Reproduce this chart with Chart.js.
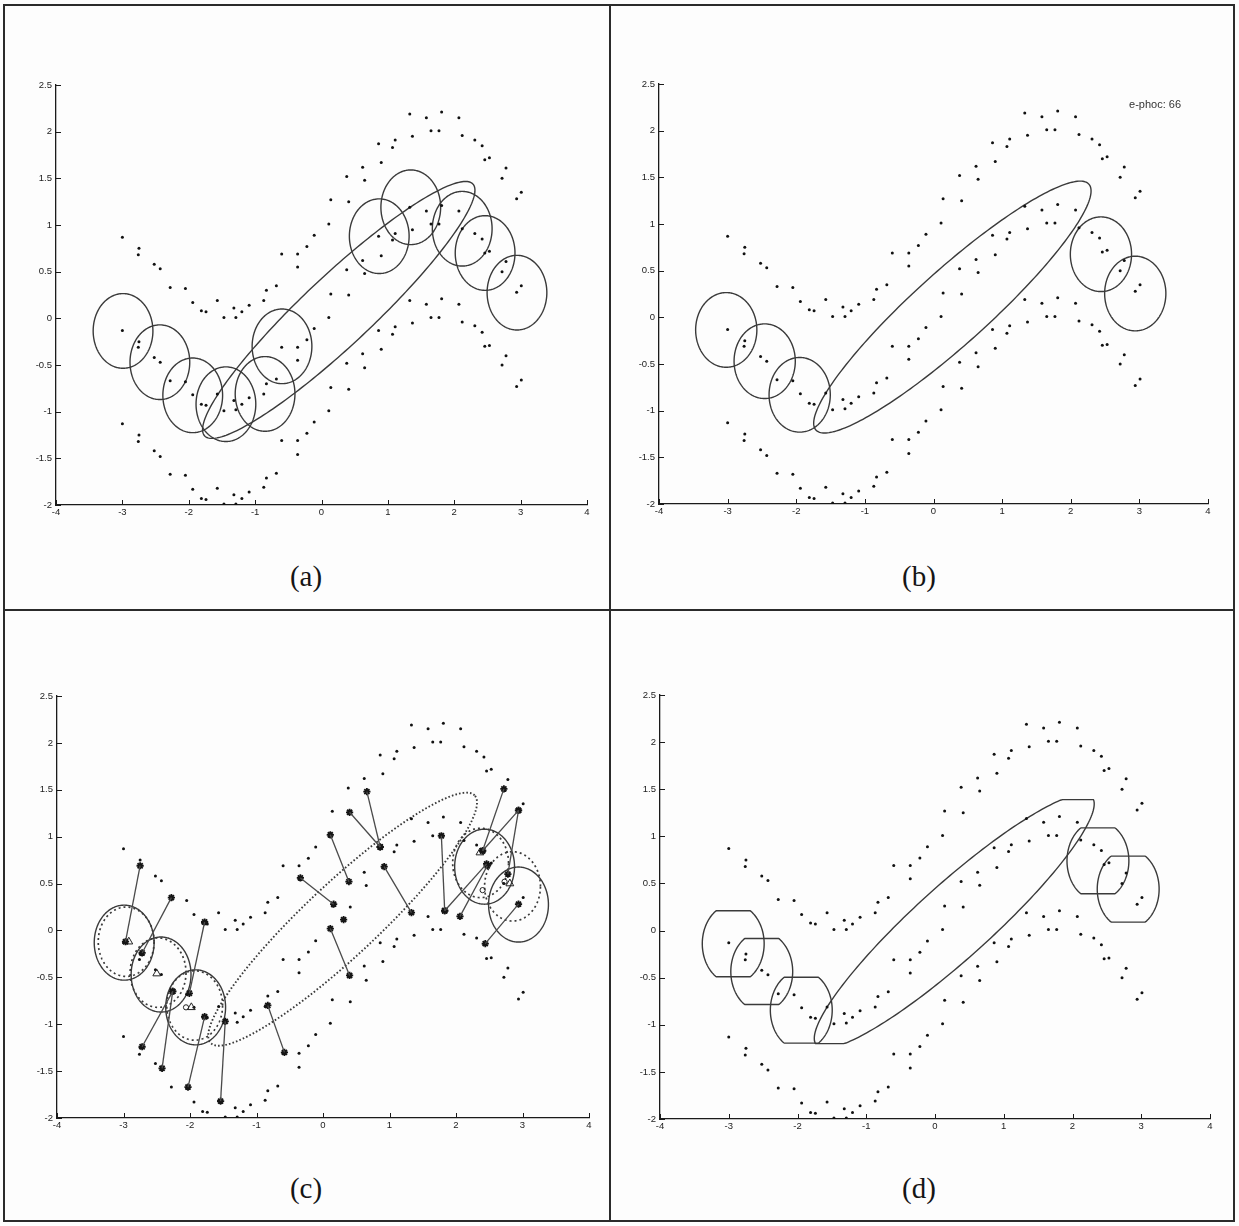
<!DOCTYPE html>
<html>
<head>
<meta charset="utf-8">
<script src="https://cdn.jsdelivr.net/npm/chart.js@4.4.1/dist/chart.umd.min.js"></script>
<style>
body { margin:0; background:#fff; }
#page { position:relative; width:1239px; height:1226px; background:#fdfdfd; overflow:hidden; }
.rule { position:absolute; background:#2b2b2b; }
canvas { position:absolute; }
.cap { position:absolute; width:80px; text-align:center; font-family:"Liberation Serif","DejaVu Serif",serif; font-size:29px; line-height:1; color:#151515; }
</style>
</head>
<body>
<div id="page">
  <div class="rule" style="left:3px;top:4px;width:1232px;height:2px"></div>
  <div class="rule" style="left:3px;top:1220px;width:1232px;height:2px"></div>
  <div class="rule" style="left:3px;top:4px;width:2px;height:1218px"></div>
  <div class="rule" style="left:1233px;top:4px;width:2px;height:1218px"></div>
  <div class="rule" style="left:609px;top:4px;width:2px;height:1218px"></div>
  <div class="rule" style="left:3px;top:609px;width:1232px;height:2px"></div>
  <canvas id="pa"></canvas>
  <canvas id="pb"></canvas>
  <canvas id="pc"></canvas>
  <canvas id="pd"></canvas>
  <div class="cap" style="left:266px;top:562px">(a)</div>
  <div class="cap" style="left:879px;top:562px">(b)</div>
  <div class="cap" style="left:266px;top:1174px">(c)</div>
  <div class="cap" style="left:879px;top:1174px">(d)</div>
</div>
<script>
// training samples: three bands, same x for every band
const xs     = [-3.00,-2.75,-2.76,-2.52,-2.43,-2.28,-2.05,-1.94,-1.81,-1.74,-1.57,-1.47,-1.32,-1.29,-1.20,-1.09,-0.87,-0.83,-0.68,-0.60,
                -0.36,-0.36,-0.22,-0.11, 0.11, 0.14, 0.38, 0.41, 0.62, 0.65, 0.86, 0.90, 1.07, 1.11, 1.33, 1.37, 1.58, 1.65, 1.77, 1.81,
                 2.07, 2.12, 2.31, 2.42, 2.46, 2.53, 2.72, 2.78, 2.94, 3.01]
const yUpper = [ 0.87, 0.75, 0.68, 0.58, 0.53, 0.33, 0.32, 0.17, 0.08, 0.07, 0.19, 0.01, 0.11, 0.01, 0.07, 0.14, 0.19, 0.30, 0.35, 0.69,
                 0.69, 0.55, 0.77, 0.89, 1.01, 1.27, 1.52, 1.25, 1.62, 1.48, 1.87, 1.67, 1.83, 1.91, 2.19, 1.95, 2.15, 2.01, 2.01, 2.21,
                 2.15, 1.96, 1.91, 1.85, 1.70, 1.72, 1.50, 1.61, 1.28, 1.35]
const yMiddle= [-0.13,-0.25,-0.31,-0.42,-0.47,-0.67,-0.68,-0.82,-0.92,-0.93,-0.81,-0.99,-0.88,-0.98,-0.92,-0.85,-0.81,-0.70,-0.65,-0.31,
                -0.31,-0.45,-0.23,-0.11, 0.01, 0.26, 0.52, 0.25, 0.62, 0.48, 0.88, 0.67, 0.84, 0.91, 1.19, 0.95, 1.15, 1.01, 1.01, 1.21,
                 1.15, 0.96, 0.91, 0.85, 0.70, 0.72, 0.50, 0.61, 0.28, 0.35]
const yLower = [-1.13,-1.25,-1.32,-1.42,-1.48,-1.67,-1.68,-1.83,-1.93,-1.94,-1.82,-1.99,-1.89,-1.99,-1.93,-1.86,-1.81,-1.71,-1.66,-1.31,
                -1.31,-1.46,-1.23,-1.11,-0.99,-0.74,-0.48,-0.76,-0.38,-0.53,-0.13,-0.33,-0.17,-0.09, 0.19,-0.05, 0.15, 0.01, 0.01, 0.21,
                 0.15,-0.04,-0.08,-0.15,-0.30,-0.29,-0.50,-0.40,-0.73,-0.66]

// local models (circle centres, data units)
const aCx = [-2.99,-2.435,-1.94,-1.44,-0.85,-0.595, 0.87, 1.345, 2.12, 2.465, 2.945]
const aCy = [-0.135,-0.47,-0.825,-0.92,-0.81,-0.30, 0.88, 1.19, 0.96, 0.70, 0.275]
const bCx = [-3.02,-2.46,-1.95, 2.44, 2.94]
const bCy = [-0.135,-0.47,-0.83, 0.676, 0.255]
const cSolidCx = [-2.99,-2.435,-1.915, 2.43, 2.94]
const cSolidCy = [-0.13,-0.47,-0.82, 0.68, 0.276]
const cDotCx = [-2.96,-2.48,-1.93, 2.37, 2.85]
const cDotCy = [-0.12,-0.45,-0.80, 0.72, 0.47]
const dCx = [-2.935,-2.52,-1.945, 2.37, 2.81]
const dCy = [-0.14,-0.435,-0.845, 0.74, 0.44]
const circleR = [0.45, 0.40]

// big elongated model: centre, axis vector, conjugate vector
const bigA = [0.26, 0.09, 2.02, 1.35, -0.36, 0.27]
const bigB = [0.275, 0.11, 1.985, 1.32, -0.38, 0.28]
const bigC = [0.295, 0.12, 1.985, 1.32, -0.38, 0.28]
const bigD = [0.28, 0.10, 2.0, 1.32, -0.38, 0.28]
const bigDClip = [-1.2, 1.39]

// panel (c): moves of samples (from -> to)
const segX0 = [-2.75,-2.28,-1.78,-2.72,-2.42,-1.78,-1.47,-0.83,-0.34, 0.11, 0.11, 0.40, 0.66, 0.92, 1.78, 1.83, 2.06, 2.72, 2.94, 2.94, 2.44]
const segY0 = [ 0.69, 0.35, 0.09,-1.24,-1.47,-0.92,-0.97,-0.80, 0.56, 1.02, 0.02, 1.26, 1.48, 0.68, 1.01, 0.21, 0.15, 1.51, 1.28, 1.28,-0.14]
const segX1 = [-2.97,-2.72,-2.01,-2.26,-2.26,-2.03,-1.54,-0.58, 0.16, 0.39, 0.40, 0.86, 0.86, 1.33, 1.83, 2.46, 2.47, 2.40, 2.40, 2.78, 2.94]
const segY1 = [-0.12,-0.24,-0.67,-0.65,-0.65,-1.67,-1.82,-1.30, 0.28, 0.52,-0.48, 0.89, 0.89, 0.19, 0.21, 0.71, 0.69, 0.85, 0.85, 0.60, 0.28]
const loneX = [0.31]
const loneY = [0.115]
const triX = [-2.92,-2.50,-1.98, 2.36, 2.81]
const triY = [-0.12,-0.46,-0.82, 0.83, 0.50]
const oX = [-2.06, 2.73, 2.40]
const oY = [-0.82, 0.52, 0.43]

const shapes = {}

function circ(cx, cy, rx, ry) {
  return { cx: cx, cy: cy, ax: rx, ay: 0, bx: 0, by: ry }
}
function big(p) {
  return { cx: p[0], cy: p[1], ax: p[2], ay: p[3], bx: p[4], by: p[5] }
}

shapes.pa = { items: [] }
aCx.forEach((x, i) => shapes.pa.items.push({ e: circ(x, aCy[i], circleR[0], circleR[1]) }))
shapes.pa.items.push({ e: big(bigA) })

shapes.pb = { items: [], text: { s: 'e-phoc: 66', x: 2.85, y: 2.27 } }
bCx.forEach((x, i) => shapes.pb.items.push({ e: circ(x, bCy[i], 0.446, 0.40) }))
shapes.pb.items.push({ e: big(bigB) })

shapes.pc = { items: [] }
cSolidCx.forEach((x, i) => shapes.pc.items.push({ e: circ(x, cSolidCy[i], circleR[0], circleR[1]) }))
cDotCx.forEach((x, i) => shapes.pc.items.push({ e: circ(x, cDotCy[i], 0.42, 0.37), dash: [2, 3], w: 1.7 }))
shapes.pc.items.push({ e: big(bigC), dash: [1.6, 2.1], w: 1.9 })

shapes.pd = { items: [] }
dCx.forEach((x, i) => {
  const e = circ(x, dCy[i], 0.45, 0.42)
  e.lo = dCy[i] - 0.35
  e.hi = dCy[i] + 0.35
  shapes.pd.items.push({ e: e })
})
const dBig = big(bigD)
dBig.lo = bigDClip[0]
dBig.hi = bigDClip[1]
shapes.pd.items.push({ e: dBig })

const shapesPlugin = {
  id: 'shapes',
  beforeDatasetsDraw(chart) {
    const spec = shapes[chart.canvas.id]
    if (!spec) return
    const sx = chart.scales.x, sy = chart.scales.y
    const ctx = chart.ctx
    ctx.save()
    spec.items.forEach(it => {
      const e = it.e
      ctx.strokeStyle = '#3a3a3a'
      ctx.lineWidth = it.w || 1.4
      ctx.setLineDash(it.dash || [])
      ctx.beginPath()
      for (let i = 0; i <= 240; i++) {
        const t = i / 240 * 2 * Math.PI
        const x = e.cx + e.ax * Math.cos(t) + e.bx * Math.sin(t)
        let y = e.cy + e.ay * Math.cos(t) + e.by * Math.sin(t)
        if (e.lo !== undefined) y = Math.min(e.hi, Math.max(e.lo, y))
        const px = sx.getPixelForValue(x), py = sy.getPixelForValue(y)
        if (i === 0) ctx.moveTo(px, py)
        else ctx.lineTo(px, py)
      }
      ctx.stroke()
    })
    ctx.restore()
  },
  afterDraw(chart) {
    const sx = chart.scales.x, sy = chart.scales.y
    const ctx = chart.ctx
    ctx.save()
    ctx.strokeStyle = '#1a1a1a'
    ctx.lineWidth = 1
    ctx.beginPath()
    sx.ticks.forEach(t => {
      const px = Math.round(sx.getPixelForValue(t.value)) + 0.5
      ctx.moveTo(px, sy.bottom)
      ctx.lineTo(px, sy.bottom - 5)
    })
    sy.ticks.forEach(t => {
      const py = Math.round(sy.getPixelForValue(t.value)) + 0.5
      ctx.moveTo(sx.left, py)
      ctx.lineTo(sx.left + 5, py)
    })
    ctx.stroke()
    const spec = shapes[chart.canvas.id]
    if (spec && spec.text) {
      ctx.fillStyle = '#333'
      ctx.font = '11px "Liberation Sans", Arial, sans-serif'
      ctx.textBaseline = 'middle'
      ctx.fillText(spec.text.s, sx.getPixelForValue(spec.text.x), sy.getPixelForValue(spec.text.y))
    }
    ctx.restore()
  }
}

function sampleSet() {
  const pts = []
  xs.forEach((x, i) => {
    pts.push({ x: x, y: yUpper[i] })
    pts.push({ x: x, y: yMiddle[i] })
    pts.push({ x: x, y: yLower[i] })
  })
  return {
    data: pts, pointRadius: 1.5, pointBackgroundColor: '#111', pointBorderWidth: 0, showLine: false
  }
}

function makePanel(id, area, extra) {
  const cv = document.getElementById(id)
  const padL = 50, padT = 12, padR = 12, padB = 26
  cv.width = area[1] - area[0] + padL + padR
  cv.height = area[3] - area[2] + padT + padB
  cv.style.left = (area[0] - padL) + 'px'
  cv.style.top = (area[2] - padT) + 'px'
  const tickFont = { family: '"Liberation Sans", Arial, sans-serif', size: 9.5 }
  new Chart(cv, {
    type: 'scatter',
    data: { datasets: extra.concat([sampleSet()]) },
    options: {
      responsive: false,
      animation: false,
      events: [],
      layout: { padding: { top: padT, right: padR, left: 0, bottom: 0 } },
      plugins: { legend: { display: false }, tooltip: { enabled: false } },
      scales: {
        x: {
          min: -4, max: 4,
          afterFit: s => { s.height = padB },
          ticks: { stepSize: 1, font: tickFont, color: '#222', padding: 2, maxRotation: 0, autoSkip: false,
                   callback: v => String(Math.round(v)) },
          grid: { display: false, drawTicks: false, tickLength: 0 },
          border: { color: '#1a1a1a', width: 1.3 }
        },
        y: {
          min: -2, max: 2.5,
          afterFit: s => { s.width = padL },
          ticks: { stepSize: 0.5, font: tickFont, color: '#222', padding: 4, autoSkip: false,
                   callback: v => String(Math.round(v * 10) / 10) },
          grid: { display: false, drawTicks: false, tickLength: 0 },
          border: { color: '#1a1a1a', width: 1.3 }
        }
      }
    },
    plugins: [shapesPlugin]
  })
}

// panel (c) marks
const cExtra = []
segX0.forEach((x, i) => {
  cExtra.push({
    data: [{ x: x, y: segY0[i] }, { x: segX1[i], y: segY1[i] }],
    showLine: true, borderColor: '#4a4a4a', borderWidth: 1.3, pointRadius: 0
  })
})
const stars = []
segX0.forEach((x, i) => {
  stars.push({ x: x, y: segY0[i] })
  stars.push({ x: segX1[i], y: segY1[i] })
})
loneX.forEach((x, i) => stars.push({ x: x, y: loneY[i] }))
cExtra.push({ data: stars, pointStyle: 'star', pointRadius: 3.6, pointBorderColor: '#151515', pointBorderWidth: 1.8, showLine: false })
cExtra.push({ data: triX.map((x, i) => ({ x: x, y: triY[i] })), pointStyle: 'triangle', pointRadius: 4.5,
  pointBackgroundColor: 'rgba(0,0,0,0)', pointBorderColor: '#222', pointBorderWidth: 1, showLine: false })
cExtra.push({ data: oX.map((x, i) => ({ x: x, y: oY[i] })), pointStyle: 'circle', pointRadius: 2.6,
  pointBackgroundColor: 'rgba(0,0,0,0)', pointBorderColor: '#222', pointBorderWidth: 1, showLine: false })

// plot areas on the page: left, right, top, bottom
makePanel('pa', [56, 587, 85, 505], [])
makePanel('pb', [659, 1208, 84, 504], [])
makePanel('pc', [57, 589, 696, 1118], cExtra)
makePanel('pd', [660, 1210, 695, 1119], [])
</script>
</body>
</html>
